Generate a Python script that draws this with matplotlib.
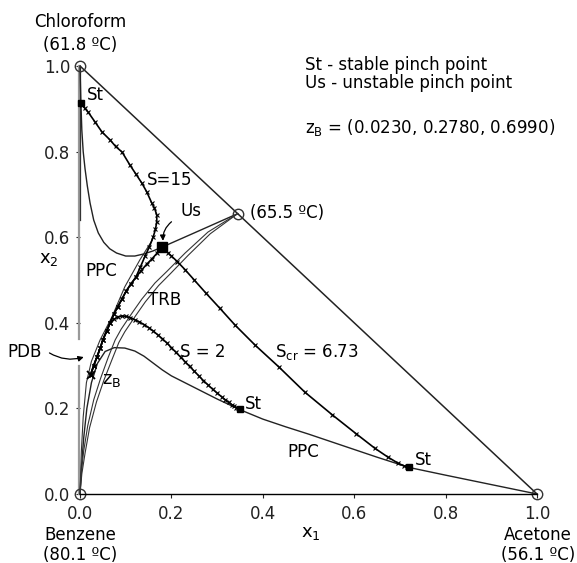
import matplotlib
matplotlib.use("Agg")
import matplotlib.pyplot as plt
from matplotlib.patches import FancyArrowPatch

plt.rcParams['font.family'] = ['DejaVu Sans']

# compositions: x1 = acetone, x2 = chloroform (benzene is the rest)
vertex_x1 = [0.0, 0.0, 1.0]
vertex_x2 = [0.0, 1.0, 0.0]
azeo = (0.345, 0.655)
zB = (0.023, 0.278)
us = (0.18, 0.577)
st_x1 = [0.002, 0.35, 0.72]
st_x2 = [0.913, 0.198, 0.062]

# pinch point curves
ppc_upper_x1 = [0.0, 0.002, 0.004, 0.007, 0.011, 0.016, 0.022, 0.03, 0.04, 0.052,
                0.065, 0.08, 0.1, 0.12, 0.14, 0.16, 0.18, 0.25, 0.345]
ppc_upper_x2 = [1.0, 0.913, 0.85, 0.80, 0.76, 0.72, 0.68, 0.64, 0.61, 0.588,
                0.573, 0.563, 0.556, 0.556, 0.561, 0.568, 0.577, 0.61, 0.655]
ppc_lower_x1 = [0.0, 0.003, 0.008, 0.015, 0.025, 0.038, 0.055, 0.075, 0.098, 0.12,
                0.14, 0.16, 0.18, 0.2, 0.25, 0.3, 0.35, 0.4, 0.45, 0.5, 0.55, 0.6,
                0.65, 0.72, 0.8, 0.9, 1.0]
ppc_lower_x2 = [0.0, 0.06, 0.13, 0.2, 0.26, 0.305, 0.333, 0.342, 0.341, 0.334,
                0.322, 0.306, 0.29, 0.276, 0.249, 0.222, 0.197, 0.175, 0.157, 0.14,
                0.122, 0.104, 0.086, 0.062, 0.044, 0.022, 0.0]

# total reflux boundary (two close branches) and pinch distillation boundary
trb_a_x1 = [0.345, 0.28, 0.23, 0.19, 0.164, 0.135, 0.114, 0.09, 0.077, 0.062,
            0.045, 0.03, 0.017, 0.008, 0.003, 0.0]
trb_a_x2 = [0.655, 0.612, 0.563, 0.52, 0.493, 0.455, 0.423, 0.385, 0.36, 0.32,
            0.27, 0.22, 0.16, 0.1, 0.05, 0.0]
trb_b_x1 = [0.345, 0.285, 0.237, 0.198, 0.172, 0.143, 0.122, 0.098, 0.085, 0.07,
            0.052, 0.036, 0.021, 0.011, 0.004, 0.0]
trb_b_x2 = [0.655, 0.608, 0.558, 0.515, 0.487, 0.449, 0.417, 0.379, 0.354, 0.314,
            0.265, 0.215, 0.155, 0.095, 0.047, 0.0]
pdb_x1 = [0.158, 0.131, 0.098, 0.07, 0.044, 0.025, 0.014, 0.007, 0.003, 0.0]
pdb_x2 = [0.593, 0.547, 0.484, 0.414, 0.36, 0.31, 0.26, 0.18, 0.1, 0.0]

# rectifying-section profiles leave zB along the same path
band_x1 = [0.023, 0.03, 0.037, 0.044, 0.05, 0.058, 0.066, 0.074, 0.083, 0.092,
           0.101, 0.111, 0.122]
band_x2 = [0.278, 0.30, 0.32, 0.34, 0.36, 0.38, 0.40, 0.42, 0.438, 0.456,
           0.474, 0.49, 0.506]

s15_x1 = band_x1 + [0.132, 0.142, 0.152, 0.16, 0.165, 0.168, 0.168, 0.163, 0.157,
                    0.146, 0.135, 0.122, 0.109, 0.092, 0.078, 0.066, 0.048, 0.033,
                    0.018, 0.01, 0.005, 0.002]
s15_x2 = band_x2 + [0.53, 0.555, 0.578, 0.6, 0.618, 0.636, 0.652, 0.668, 0.68,
                    0.706, 0.727, 0.748, 0.769, 0.799, 0.812, 0.827, 0.846, 0.869,
                    0.892, 0.902, 0.908, 0.913]

scr_x1 = band_x1 + [0.134, 0.146, 0.158, 0.168, 0.175, 0.178, 0.18, 0.185, 0.192,
                    0.2, 0.213, 0.23, 0.25, 0.275, 0.306, 0.339, 0.383, 0.435,
                    0.492, 0.552, 0.604, 0.645, 0.674, 0.696, 0.708, 0.715, 0.72]
scr_x2 = band_x2 + [0.522, 0.537, 0.55, 0.562, 0.57, 0.574, 0.577, 0.571, 0.564,
                    0.556, 0.543, 0.524, 0.5, 0.47, 0.434, 0.395, 0.348, 0.297,
                    0.238, 0.185, 0.141, 0.107, 0.086, 0.072, 0.066, 0.063, 0.061]

s2_x1 = band_x1[:7] + [0.074, 0.083, 0.092, 0.1, 0.11, 0.12, 0.13, 0.14, 0.15, 0.16,
                       0.17, 0.18, 0.19, 0.2, 0.21, 0.22, 0.23, 0.24, 0.25, 0.26,
                       0.27, 0.28, 0.29, 0.3, 0.31, 0.318, 0.326, 0.333, 0.338,
                       0.342, 0.345, 0.347, 0.349, 0.35]
s2_x2 = band_x2[:7] + [0.408, 0.414, 0.416, 0.415, 0.412, 0.407, 0.402, 0.396,
                       0.389, 0.381, 0.372, 0.363, 0.353, 0.342, 0.331, 0.32, 0.309,
                       0.298, 0.287, 0.276, 0.265, 0.255, 0.245, 0.236, 0.227, 0.22,
                       0.214, 0.208, 0.205, 0.202, 0.2, 0.199, 0.198, 0.198]

ticks = [0.0, 0.2, 0.4, 0.6, 0.8, 1.0]
tick_labels = ['0.0', '0.2', '0.4', '0.6', '0.8', '1.0']

fig = plt.figure(figsize=(5.77, 5.63), dpi=100)
ax = fig.add_axes([80 / 577, 69 / 563, 457 / 577, 428 / 563])
ax.set_xlim(0, 1)
ax.set_ylim(0, 1)
for side in ['top', 'right', 'left']:
    ax.spines[side].set_visible(False)
ax.spines['bottom'].set_linewidth(1.0)
ax.set_xticks(ticks)
ax.set_xticklabels(tick_labels)
ax.set_yticks(ticks)
ax.set_yticklabels(tick_labels)
ax.tick_params(direction='out', length=3, width=0.8, labelsize=12, colors='#222222')
ax.tick_params(axis='x', pad=5)
ax.tick_params(axis='y', pad=4)

fs = 12
kw = dict(clip_on=False)

# triangle edges
ax.plot([0, 1], [1, 0], color='#222222', lw=1.1, **kw)
ax.plot([-0.003, -0.003], [0.0, 0.30], color='#999999', lw=1.6, **kw)
ax.plot([-0.003, -0.003], [0.363, 1.0], color='#999999', lw=1.6, **kw)
ax.plot([0, 0], [0.64, 1.0], color='#333333', lw=0.9, **kw)

# boundaries and pinch point curves
ax.plot(ppc_upper_x1, ppc_upper_x2, color='#222222', lw=1.0, **kw)
ax.plot(ppc_lower_x1, ppc_lower_x2, color='#222222', lw=1.0, **kw)
ax.plot(trb_a_x1, trb_a_x2, color='#333333', lw=0.8, **kw)
ax.plot(trb_b_x1, trb_b_x2, color='#333333', lw=0.8, **kw)
ax.plot(pdb_x1, pdb_x2, color='#333333', lw=0.8, **kw)

# column profiles
for px, py in [(s15_x1, s15_x2), (scr_x1, scr_x2), (s2_x1, s2_x2)]:
    ax.plot(px, py, color='black', lw=1.2, marker='x', markersize=3.5,
            markeredgewidth=0.8, **kw)

# pinch points and feed
ax.plot(st_x1, st_x2, 's', color='black', markersize=4.5, **kw)
ax.plot(us[0], us[1], 's', color='black', markersize=6.5, **kw)
ax.plot(zB[0], zB[1], 'x', color='black', markersize=6, markeredgewidth=1.3, **kw)

# pure components and azeotrope
ax.plot(vertex_x1 + [azeo[0]], vertex_x2 + [azeo[1]], 'o', markersize=7.5,
        markerfacecolor='none', markeredgecolor='#333333', markeredgewidth=1.0, **kw)

# annotations
ax.text(0.0, 1.103, 'Chloroform', ha='center', va='center', fontsize=fs)
ax.text(0.0, 1.049, '(61.8 ºC)', ha='center', va='center', fontsize=fs)
ax.text(0.0, -0.096, 'Benzene', ha='center', va='center', fontsize=fs)
ax.text(0.0, -0.143, '(80.1 ºC)', ha='center', va='center', fontsize=fs)
ax.text(1.002, -0.096, 'Acetone', ha='center', va='center', fontsize=fs)
ax.text(1.002, -0.143, '(56.1 ºC)', ha='center', va='center', fontsize=fs)
ax.text(0.372, 0.656, '(65.5 ºC)', ha='left', va='center', fontsize=fs)
ax.text(0.505, -0.092, 'x$_1$', ha='center', va='center', fontsize=fs + 1)
ax.text(-0.068, 0.549, 'x$_2$', ha='center', va='center', fontsize=fs + 1)

ax.text(0.492, 1.002, 'St - stable pinch point', ha='left', va='center', fontsize=fs)
ax.text(0.492, 0.96, 'Us - unstable pinch point', ha='left', va='center', fontsize=fs)
ax.text(0.492, 0.857, 'z$_\\mathrm{B}$ = (0.0230, 0.2780, 0.6990)', ha='left',
        va='center', fontsize=fs)

ax.text(0.015, 0.932, 'St', ha='left', va='center', fontsize=fs)
ax.text(0.361, 0.21, 'St', ha='left', va='center', fontsize=fs)
ax.text(0.733, 0.079, 'St', ha='left', va='center', fontsize=fs)
ax.text(0.22, 0.661, 'Us', ha='left', va='center', fontsize=fs)
ax.text(0.146, 0.734, 'S=15', ha='left', va='center', fontsize=fs)
ax.text(0.011, 0.521, 'PPC', ha='left', va='center', fontsize=fs)
ax.text(0.453, 0.098, 'PPC', ha='left', va='center', fontsize=fs)
ax.text(0.149, 0.453, 'TRB', ha='left', va='center', fontsize=fs)
ax.text(0.219, 0.332, 'S = 2', ha='left', va='center', fontsize=fs)
ax.text(0.427, 0.332, 'S$_\\mathrm{cr}$ = 6.73', ha='left', va='center', fontsize=fs)
ax.text(-0.158, 0.332, 'PDB', ha='left', va='center', fontsize=fs)
ax.text(0.048, 0.266, 'z$_\\mathrm{B}$', ha='left', va='center', fontsize=fs + 1)

ax.add_patch(FancyArrowPatch((0.205, 0.64), (0.182, 0.585),
                             connectionstyle='arc3,rad=0.3', arrowstyle='-|>',
                             mutation_scale=8, lw=0.9, color='black', clip_on=False))
ax.add_patch(FancyArrowPatch((-0.072, 0.333), (0.014, 0.322),
                             connectionstyle='arc3,rad=0.25', arrowstyle='-|>',
                             mutation_scale=8, lw=0.9, color='black', clip_on=False))

fig.savefig('out.png', dpi=100)
